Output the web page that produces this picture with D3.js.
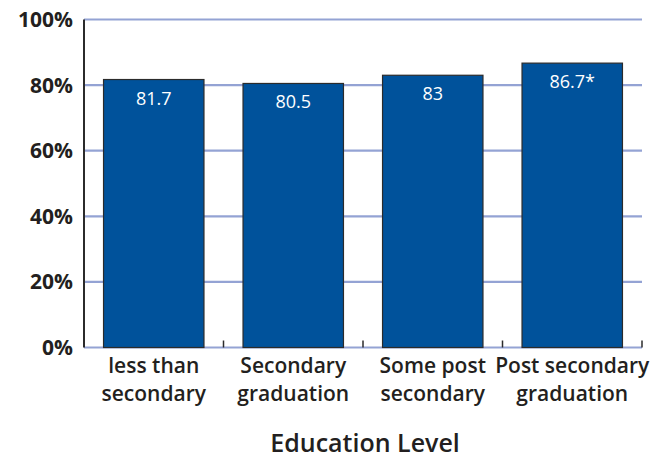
<!DOCTYPE html>
<html>
<head>
<meta charset="utf-8">
<script src="https://cdnjs.cloudflare.com/ajax/libs/d3/7.8.5/d3.min.js"></script>
<style>
  body { margin: 0; background: #fff; }
  svg { display: block; font-family: "Open Sans", sans-serif; }
</style>
</head>
<body>
<svg id="chart" width="664" height="459"></svg>
<script>
// data
const categories = [
  ["less than", "secondary"],
  ["Secondary", "graduation"],
  ["Some post", "secondary"],
  ["Post secondary", "graduation"]
];
const values = [81.7, 80.5, 83, 86.7];
const valueLabels = ["81.7", "80.5", "83", "86.7*"];
const yTicks = [0, 20, 40, 60, 80, 100];
const xTitle = "Education Level";

let svg = d3.select("#chart"),
  margin = { top: 19.5, right: 22, bottom: 111.5, left: 84 },
  width = +svg.attr("width") - margin.left - margin.right,
  height = +svg.attr("height") - margin.top - margin.bottom;

let frame = svg.append("g")
  .attr("transform", `translate(${margin.left},${margin.top})`);

let x = d3.scaleBand()
  .domain(d3.range(categories.length))
  .range([0, width])
  .paddingInner(0.28)
  .paddingOuter(0.14);

let y = d3.scaleLinear()
  .domain([0, 100])
  .range([height, 0]);

// gridlines
frame.selectAll(".grid")
  .data(yTicks)
  .enter().append("line")
    .attr("class", "grid")
    .attr("x1", 0)
    .attr("x2", width)
    .attr("y1", d => y(d))
    .attr("y2", d => y(d))
    .attr("stroke", "#94a3d4")
    .attr("stroke-width", 2.2);

// y labels
frame.selectAll(".ylab")
  .data(yTicks)
  .enter().append("text")
    .attr("class", "ylab")
    .attr("x", -11)
    .attr("y", d => y(d))
    .attr("dy", "0.36em")
    .attr("text-anchor", "end")
    .attr("font-size", 21)
    .attr("font-weight", 700)
    .attr("fill", "#231f20")
    .text(d => d + "%");

// bars
frame.selectAll(".bar")
  .data(values)
  .enter().append("rect")
    .attr("class", "bar")
    .attr("x", (d, i) => x(i))
    .attr("y", d => y(d))
    .attr("width", x.bandwidth())
    .attr("height", d => height - y(d))
    .attr("fill", "#00529b")
    .attr("stroke", "#2b2b2b")
    .attr("stroke-width", 1.2);

frame.selectAll(".vlab")
  .data(values)
  .enter().append("text")
    .attr("class", "vlab")
    .attr("x", (d, i) => x(i) + x.bandwidth() / 2)
    .attr("y", d => y(d) + 25)
    .attr("text-anchor", "middle")
    .attr("font-size", 18)
    .attr("fill", "#fff")
    .text((d, i) => valueLabels[i]);

// axis lines
frame.append("line")
  .attr("x1", 0).attr("x2", 0)
  .attr("y1", 0).attr("y2", height)
  .attr("stroke", "#2b2b2b")
  .attr("stroke-width", 2);

let step = x.step();
frame.selectAll(".xtick")
  .data(d3.range(1, categories.length + 1))
  .enter().append("line")
    .attr("class", "xtick")
    .attr("x1", d => d * step)
    .attr("x2", d => d * step)
    .attr("y1", height - 7)
    .attr("y2", height)
    .attr("stroke", "#2b2b2b")
    .attr("stroke-width", 1.5);

// category labels
let catLabels = frame.selectAll(".xlab")
  .data(categories)
  .enter().append("text")
    .attr("class", "xlab")
    .attr("text-anchor", "middle")
    .attr("font-size", 21)
    .attr("font-weight", 600)
    .attr("fill", "#231f20");

catLabels.selectAll("tspan")
  .data((d, i) => d.map(t => ({ t, i })))
  .enter().append("tspan")
    .attr("x", d => x(d.i) + x.bandwidth() / 2)
    .attr("y", (d, j) => height + 25 + j * 28)
    .text(d => d.t);

svg.append("text")
  .attr("x", margin.left + width / 2 + 2)
  .attr("y", 452)
  .attr("text-anchor", "middle")
  .attr("font-size", 25)
  .attr("font-weight", 600)
  .attr("fill", "#231f20")
  .text(xTitle);
</script>
</body>
</html>
